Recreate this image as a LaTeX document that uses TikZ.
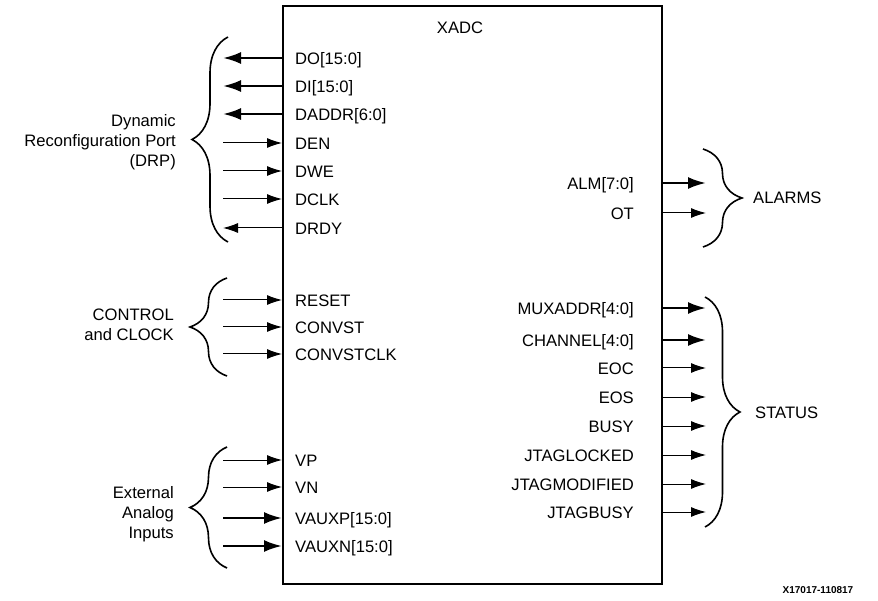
\documentclass[tikz,border=0pt]{standalone}
\usepackage{fontspec}
\setmainfont{Liberation Sans}
\usetikzlibrary{arrows.meta,decorations.pathreplacing}

\begin{document}
\begin{tikzpicture}[x=1pt,y=-1pt,
    bus/.style={line width=2.4pt,-{Latex[length=18pt,width=12pt]}},
    busback/.style={line width=2.4pt,{Latex[length=18pt,width=12pt]}-},
    wire/.style={line width=1pt,-{Latex[length=15pt,width=10pt]}},
    wireback/.style={line width=1pt,{Latex[length=15pt,width=10pt]}-},
    grp/.style={decorate,decoration={brace,amplitude=#1},line width=1.6pt},
    pin/.style={inner sep=0pt,text height=11.9pt,text depth=0pt,font=\fontsize{16.6}{20}\selectfont},
    grplabel/.style={inner sep=0pt,align=right,font=\fontsize{16.6}{20}\selectfont}]
    \useasboundingbox (0,0) rectangle (878,601);
    % the block
    \node[draw,line width=2pt,inner sep=0pt,minimum width=379pt,minimum height=578pt,anchor=north west] (xadc) at (282,5) {};
    \node[pin] (title) at (460,28) {XADC};
    % left side pins
    \foreach \sig/\txt/\y/\st in {DO/DO[15:0]/58/busback, DI/DI[15:0]/86/busback,
        DADDR/DADDR[6:0]/114/busback, DEN/DEN/143/wire, DWE/DWE/171/wire,
        DCLK/DCLK/199/wire, DRDY/DRDY/228/wireback, RESET/RESET/300/wire,
        CONVST/CONVST/327/wire, CONVSTCLK/CONVSTCLK/354/wire, VP/VP/460/wire,
        VN/VN/487/wire, VAUXP/VAUXP[15:0]/518/bus, VAUXN/VAUXN[15:0]/546/bus}{
      \node[pin,anchor=west] (\sig) at (295,\y+1) {\txt};
      \coordinate (\sig-end) at (223,\y);
      \draw[\st] (\sig-end) -- (\sig-end -| xadc.west);
    }
    % right side pins
    \foreach \sig/\txt/\y/\st in {ALM/ALM[7:0]/183/bus, OT/OT/213/wire,
        MUXADDR/MUXADDR[4:0]/308/bus, CHANNEL/CHANNEL[4:0]/340/bus,
        EOC/EOC/368/wire, EOS/EOS/397/wire, BUSY/BUSY/426/wire,
        JTAGLOCKED/JTAGLOCKED/455/wire, JTAGMODIFIED/JTAGMODIFIED/484/wire,
        JTAGBUSY/JTAGBUSY/512/wire}{
      \node[pin,anchor=east] (\sig) at (634,\y+1) {\txt};
      \coordinate (\sig-end) at (706,\y);
      \draw[\st] (\sig-end -| xadc.east) -- (\sig-end);
    }
    % groups
    \draw[grp=36] (228,242) -- (228,37);
    \draw[grp=37] (227,376) -- (227,278);
    \draw[grp=37] (227,568) -- (227,447);
    \draw[grp=39] (703,149) -- (703,247);
    \draw[grp=35] (705,297) -- (705,527);
    \node[grplabel,anchor=east] (drp) at (176,142.5) {Dynamic\\Reconfiguration Port\\(DRP)};
    \node[grplabel,anchor=east] (ctrl) at (174,324.5) {CONTROL\\and CLOCK};
    \node[grplabel,anchor=east] (analog) at (174,514.5) {External\\Analog\\Inputs};
    \node[pin,anchor=west] (alarms) at (753,198) {ALARMS};
    \node[pin,anchor=west] (status) at (755,413) {STATUS};
    \node[inner sep=0pt,font=\fontsize{10}{12}\selectfont\bfseries] (figid) at (818,590) {X17017-110817};
\end{tikzpicture}
\end{document}
